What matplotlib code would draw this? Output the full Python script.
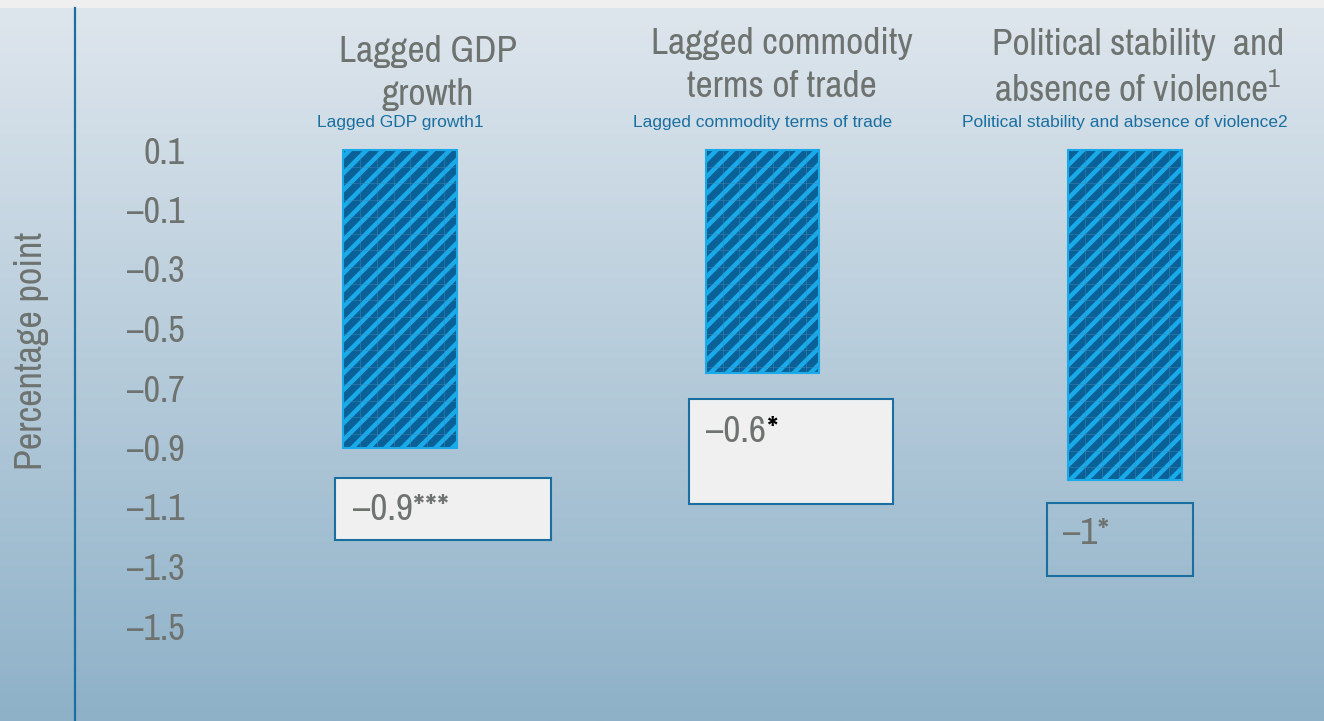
import numpy as np
import matplotlib
matplotlib.use("Agg")
import matplotlib.pyplot as plt
from matplotlib import font_manager
from matplotlib.colors import to_rgb
from matplotlib.patches import Rectangle

# data
categories = ["Lagged GDP\ngrowth", "Lagged commodity\nterms of trade",
              "Political stability  and\nabsence of violence$^{1}$"]
sublabels = ["Lagged GDP growth1", "Lagged commodity terms of trade",
             "Political stability and absence of violence2"]
values = [-0.90, -0.65, -1.01]
value_labels = ["\u20130.9***", "\u20130.6", "\u20131*"]
yticks = [0.1, -0.1, -0.3, -0.5, -0.7, -0.9, -1.1, -1.3, -1.5]
yticklabels = ["0.1", "\u20130.1", "\u20130.3", "\u20130.5", "\u20130.7",
               "\u20130.9", "\u20131.1", "\u20131.3", "\u20131.5"]
base = 0.1

names = sorted({f.name for f in font_manager.fontManager.ttflist})
cond = [n for n in names if "Narrow" in n or "Condensed" in n or "Cond" in n]
narrow_name = cond[0] if cond else "Liberation Sans"
narrow = [narrow_name, "DejaVu Sans"]
plt.rcParams["font.family"] = narrow
plt.rcParams["mathtext.fontset"] = "custom"
plt.rcParams["mathtext.rm"] = narrow_name
plt.rcParams["mathtext.it"] = narrow_name
plt.rcParams["hatch.linewidth"] = 3.2

gray = "#6e7370"
blue = "#1a6fa0"
light = "#19aaea"
dark = "#0a6197"

W, H = 1324, 721
fig = plt.figure(figsize=(W / 100, H / 100), dpi=100, facecolor="#efefef")

# gradient background
top_band = 8
bg = fig.add_axes([0, 0, 1, 1 - top_band / H])
c1 = np.array(to_rgb("#dee6ed"))
c2 = np.array(to_rgb("#8eb1c8"))
t = np.linspace(0, 1, 256)[:, None, None]
grad = c1 * (1 - t) + c2 * t
bg.imshow(grad, aspect="auto", extent=[0, 1, 0, 1])
bg.axis("off")

left = 75
ax = fig.add_axes([left / W, 0, (W - left) / W, 1 - top_band / H])
ax.patch.set_alpha(0)

x = np.arange(len(values))
heights = [v - base for v in values]
width = 0.312

# x: bar centres at pixels 400, 762, 1125 -> 362.5 px per unit
unit = 362.5
ax.set_xlim(-(400 - left) / unit, 2 + (W - 1125) / unit)
ppu = 297.5  # pixels per y unit
ax.set_ylim(base - (721 - 150) / ppu, base + (150 - top_band) / ppu)

bars = ax.bar(x, heights, width, bottom=base, color=dark, edgecolor=light,
              hatch="//", linewidth=0)
for p in bars:
    if hasattr(p, "set_hatch_linewidth"):
        p.set_hatch_linewidth(3.2)
    # faint grid inside each bar
    x0, y0 = p.get_x(), p.get_y()
    w, h = p.get_width(), p.get_height()
    gx = np.arange(x0, x0 + w, 16.7 / unit)[1:]
    gy = np.arange(y0, y0 + h, -16.7 / ppu)[1:]
    vl = ax.vlines(gx, y0 + h, y0, colors="#3f88b9", linewidth=0.6, alpha=0.55)
    hl = ax.hlines(gy, x0, x0 + w, colors="#3f88b9", linewidth=0.6, alpha=0.55)
    vl.set_clip_path(p)
    hl.set_clip_path(p)
ax.bar(x, heights, width, bottom=base, color="none", edgecolor=light, linewidth=1.5)

def ypix(p):
    return base - (p - 150) / ppu

# value boxes (left offset px, width px, top px, bottom px, fill)
boxes = [(-65, 216, 478, 540, "#f0f0f0"),
         (-74, 204, 399, 504, "#f0f0f0"),
         (-78, 146, 503, 576, "none")]
text_pos = [(-47, 510), (-56, 431), (-62, 533)]
for i, (dx, bw, tp, bp, fc) in enumerate(boxes):
    r = Rectangle((x[i] + dx / unit, ypix(bp)), bw / unit, ypix(tp) - ypix(bp),
                  facecolor=fc, edgecolor=blue, linewidth=1.5, zorder=3)
    ax.add_patch(r)
    tx, ty = text_pos[i]
    tt = ax.text(x[i] + tx / unit, ypix(ty), value_labels[i], fontsize=27,
                 color=gray, ha="left", va="center", zorder=4)
    if i == 1:
        ax.annotate("*", xy=(1, 0.5), xycoords=tt, fontsize=26, color="black",
                    fontweight="bold", ha="left", va="center", zorder=4)

# titles
title_dx = [28, 19, 13]
title_y = [73, 65, 68]
for i, lab in enumerate(categories):
    ax.text(x[i] + title_dx[i] / unit, ypix(title_y[i]), lab, fontsize=27,
            color=gray, ha="center", va="center", linespacing=1.35)
    ax.text(x[i], ypix(123), sublabels[i], fontsize=12.5, color=blue,
            ha="center", va="center", family=["Liberation Sans", "DejaVu Sans"])

ax.set_yticks(yticks)
ax.set_yticklabels(yticklabels)
ax.tick_params(axis="y", length=0, pad=-79, labelsize=26, labelcolor=gray)
ax.set_xticks([])
for s in ["top", "right", "bottom"]:
    ax.spines[s].set_visible(False)
ax.spines["left"].set_color(blue)
ax.spines["left"].set_linewidth(1.6)

fig.text(32 / W, 1 - 351 / H, "Percentage point", rotation=90, fontsize=27.5,
         color=gray, ha="center", va="center")

fig.savefig("out.png", dpi=100, facecolor=fig.get_facecolor())
